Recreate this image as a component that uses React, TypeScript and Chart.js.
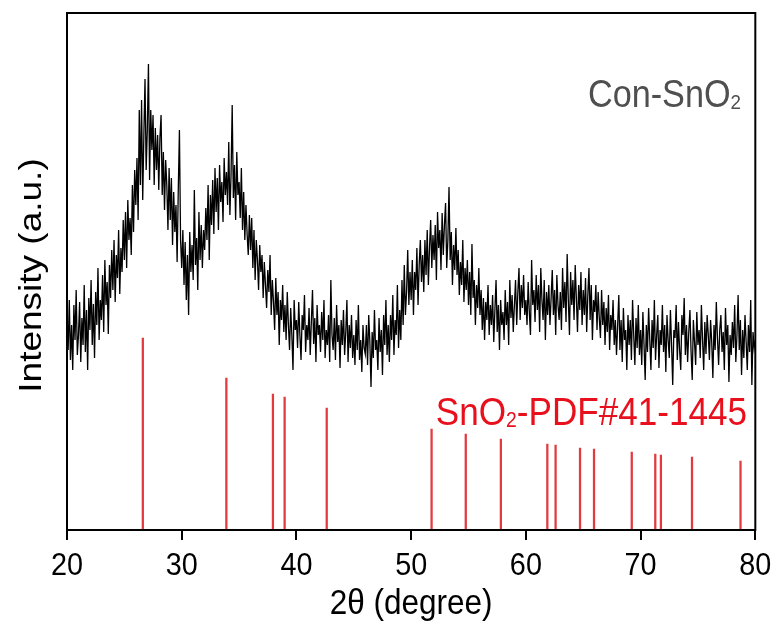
import React, { useEffect, useRef } from "react";
import { Chart, registerables } from "chart.js";

Chart.register(...registerables);

// 2θ sampling of the measured pattern
const START_ANGLE = 20;
const STEP_ANGLE = 0.1;

// Measured intensity (a.u.), 0.1° steps
const int20to30 = [
  215, 180, 230, 170, 205, 160, 225, 190, 240, 175,
  195, 228, 168, 212, 185, 245, 178, 220, 160, 232,
  200, 250, 185, 226, 172, 238, 205, 262, 190, 230,
  210, 255, 198, 270, 225, 248, 196, 265, 232, 280,
  240, 290, 228, 275, 252, 300, 236, 282, 258, 310,
  270, 318, 262, 330, 290, 312, 275, 345, 298, 360,
  325, 372, 310, 420, 345, 430, 330, 395, 451, 360,
  400, 466, 350, 420, 380, 415, 345, 402, 360, 395,
  340, 392, 415, 335, 378, 320, 370, 345, 300, 362,
  310, 352, 285, 338, 298, 325, 268, 340, 400, 290,
];
const int30to40 = [
  262, 300, 245, 288, 230, 275, 215, 298, 258, 285,
  250, 340, 265, 292, 240, 318, 270, 305, 262, 300,
  280, 322, 290, 345, 270, 335, 305, 350, 296, 362,
  318, 352, 300, 365, 328, 348, 308, 372, 335, 358,
  325, 388, 315, 355, 425, 332, 365, 310, 378, 335,
  348, 312, 362, 300, 338, 290, 325, 296, 275, 315,
  280, 312, 262, 300, 250, 290, 270, 240, 285, 258,
  275, 232, 268, 245, 222, 260, 238, 275, 215, 250,
  228, 200, 252, 215, 238, 185, 230, 210, 245, 198,
  225, 190, 238, 205, 180, 222, 195, 160, 230, 200,
];
const int40to50 = [
  210, 182, 228, 195, 170, 215, 200, 235, 178, 205,
  190, 222, 175, 208, 240, 186, 212, 168, 225, 195,
  205, 178, 218, 190, 230, 172, 200, 185, 215, 168,
  250, 195, 180, 212, 170, 225, 188, 205, 162, 210,
  185, 220, 175, 198, 230, 168, 205, 182, 215, 172,
  195, 165, 210, 180, 225, 170, 190, 158, 205, 182,
  176, 205, 165, 215, 188, 143, 198, 172, 220, 180,
  190, 160, 212, 178, 200, 155, 215, 185, 230, 175,
  205, 168, 215, 190, 235, 175, 210, 195, 245, 182,
  220, 190, 250, 205, 265, 215, 238, 280, 225, 258,
];
const int50to60 = [
  230, 270, 215, 258, 240, 282, 225, 265, 290, 248,
  275, 238, 290, 255, 300, 245, 282, 310, 262, 295,
  270, 305, 250, 318, 282, 300, 260, 317, 275, 305,
  327, 262, 290, 343, 270, 298, 245, 285, 260, 302,
  255, 280, 235, 268, 245, 290, 228, 262, 240, 270,
  225, 258, 215, 286, 232, 250, 205, 245, 222, 262,
  215, 240, 200, 232, 190, 228, 210, 245, 195, 225,
  205, 235, 188, 220, 250, 198, 225, 180, 230, 205,
  218, 190, 240, 205, 228, 185, 250, 212, 235, 198,
  225, 250, 205, 238, 262, 210, 245, 222, 255, 215,
];
const int60to70 = [
  230, 205, 248, 218, 195, 270, 225, 240, 208, 255,
  220, 245, 198, 262, 230, 210, 250, 190, 238, 215,
  245, 205, 232, 260, 215, 240, 195, 255, 225, 210,
  238, 200, 262, 222, 248, 208, 276, 230, 195, 258,
  225, 250, 210, 265, 232, 198, 245, 220, 258, 205,
  240, 215, 252, 198, 235, 262, 210, 245, 190, 230,
  218, 245, 200, 238, 212, 192, 240, 205, 228, 185,
  222, 198, 235, 180, 215, 200, 230, 185, 210, 175,
  205, 235, 180, 210, 168, 222, 190, 200, 160, 215,
  185, 210, 170, 230, 195, 165, 212, 182, 225, 175,
];
const int70to80 = [
  200, 165, 218, 185, 150, 205, 178, 222, 190, 160,
  210, 182, 230, 170, 195, 215, 162, 200, 185, 225,
  178, 205, 158, 215, 190, 172, 220, 185, 145, 200,
  192, 225, 170, 208, 180, 160, 215, 195, 232, 175,
  205, 168, 198, 220, 178, 150, 210, 188, 165, 218,
  185, 200, 172, 225, 190, 160, 208, 176, 215, 195,
  170, 210, 188, 152, 205, 180, 228, 192, 165, 200,
  215, 178, 198, 160, 222, 185, 205, 148, 195, 175,
  208, 182, 225, 168, 195, 235, 180, 210, 155, 200,
  172, 215, 188, 160, 205, 178, 230, 145, 198, 182,
  190,
];

// Reference pattern SnO2 PDF#41-1445 (stick positions and drawn heights)
const refAngles = [26.61, 33.89, 37.95, 38.97, 42.64, 51.78, 54.76, 57.82, 61.87, 62.59, 64.72, 65.94, 69.23, 71.28, 71.77, 74.48, 78.71];
const refHeights = [192, 152, 136, 133, 122, 101, 96, 91, 86, 85, 82, 81, 78, 76, 75, 73, 69];

const xMin = 20;
const xMax = 80;
const xStep = 10;
const yMax = 517;

const xTitle = "2θ (degree)";
const yTitle = "Intensity (a.u.)";
const sampleName = ["Con-SnO", "2", ""];
const refName = ["SnO", "2", "-PDF#41-1445"];

const FONT = '"Liberation Sans", Arial, Helvetica, sans-serif';
const SX = 0.9;

function drawText(ctx: CanvasRenderingContext2D, s: string, x: number, y: number, size: number, color: string, align: CanvasTextAlign) {
  ctx.save();
  ctx.translate(x, y);
  ctx.scale(SX, 1);
  ctx.font = `${size}px ${FONT}`;
  ctx.fillStyle = color;
  ctx.textAlign = align;
  ctx.textBaseline = "alphabetic";
  ctx.fillText(s, 0, 0);
  ctx.restore();
}

function drawSubText(ctx: CanvasRenderingContext2D, parts: string[], right: number, y: number, size: number, color: string) {
  const subSize = size * 0.55;
  ctx.save();
  ctx.font = `${size}px ${FONT}`;
  const w1 = ctx.measureText(parts[0]).width;
  const w3 = ctx.measureText(parts[2]).width;
  ctx.font = `${subSize}px ${FONT}`;
  const w2 = ctx.measureText(parts[1]).width;
  ctx.restore();
  const total = (w1 + w2 + w3) * SX;
  let x = right - total;
  drawText(ctx, parts[0], x, y, size, color, "left");
  x += w1 * SX;
  drawText(ctx, parts[1], x, y + size * 0.06, subSize, color, "left");
  x += w2 * SX;
  drawText(ctx, parts[2], x, y, size, color, "left");
}

export default function App() {
  const ref = useRef<HTMLCanvasElement>(null);
  useEffect(() => {
    const intensities = [...int20to30, ...int30to40, ...int40to50, ...int50to60, ...int60to70, ...int70to80];
    const linePoints = intensities.map((y, i) => ({ x: Math.round((START_ANGLE + i * STEP_ANGLE) * 10) / 10, y }));
    const sticks = refAngles.map((x, i) => ({ x, y: refHeights[i] }));

    const deco = {
      id: "deco",
      afterDraw(chart: any) {
        const ctx: CanvasRenderingContext2D = chart.ctx;
        const a = chart.chartArea;
        const xs = chart.scales.x;
        ctx.save();
        ctx.strokeStyle = "#000";
        ctx.lineWidth = 2;
        ctx.strokeRect(a.left, a.top, a.right - a.left, a.bottom - a.top);
        ctx.restore();
        for (const t of xs.ticks) {
          const px = xs.getPixelForValue(t.value);
          drawText(ctx, String(t.value), px, 575, 32, "#000", "center");
        }
        drawText(ctx, xTitle, (a.left + a.right) / 2, 614, 35, "#000", "center");
        // y title
        ctx.save();
        ctx.translate(41, (a.top + a.bottom) / 2 + 4);
        ctx.scale(0.86, 1);
        ctx.rotate(-Math.PI / 2);
        ctx.font = `37px ${FONT}`;
        ctx.fillStyle = "#000";
        ctx.textAlign = "center";
        ctx.fillText(yTitle, 0, 0);
        ctx.restore();
        drawSubText(ctx, sampleName, 741, 107, 38, "#4f4f4f");
        drawSubText(ctx, refName, 747, 425, 39, "#e8101c");
      },
    };

    const chart = new Chart(ref.current as HTMLCanvasElement, {
      type: "line",
      data: {
        datasets: [
          {
            type: "line",
            data: linePoints,
            borderColor: "#000",
            borderWidth: 1.3,
            pointRadius: 0,
            tension: 0,
            fill: false,
            order: 1,
          } as any,
          {
            type: "bar",
            data: sticks,
            backgroundColor: "#e23a3f",
            barThickness: 1.6,
            order: 2,
          } as any,
        ],
      },
      options: {
        responsive: false,
        animation: false,
        layout: { padding: { top: 13, left: 67, right: 19, bottom: 0 } },
        plugins: { legend: { display: false }, tooltip: { enabled: false } },
        scales: {
          x: {
            type: "linear",
            min: xMin,
            max: xMax,
            offset: false,
            ticks: { stepSize: xStep, color: "rgba(0,0,0,0)", font: { size: 30 } },
            grid: { drawOnChartArea: false, drawTicks: true, tickLength: 10, color: "#000", lineWidth: 2, offset: false },
            border: { display: true, color: "#000", width: 2 },
            afterFit(s: any) {
              s.height = 98;
            },
          },
          y: { display: false, min: 0, max: yMax },
        },
      } as any,
      plugins: [deco],
    });
    return () => chart.destroy();
  }, []);
  return (
    <div style={{ position: "fixed", left: 0, top: 0, width: 775, height: 628, background: "#fff" }}>
      <canvas ref={ref} width={775} height={628} style={{ display: "block" }} />
    </div>
  );
}
